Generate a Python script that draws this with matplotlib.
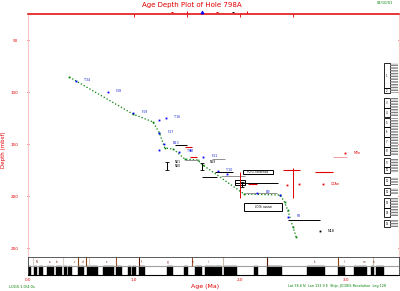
import matplotlib
matplotlib.use("Agg")
import matplotlib.pyplot as plt
from matplotlib.patches import Rectangle

# age-depth control line
line_age = [0.39, 0.99, 1.18, 1.24, 1.29, 1.37, 1.48, 1.60, 1.65, 2.04, 2.38, 2.42, 2.45, 2.50, 2.53]
line_depth = [85.6, 121.2, 128.8, 139.4, 153.8, 154.8, 164.4, 165.4, 170.2, 198.1, 199.0, 205.8, 213.5, 229.8, 239.4]

# biostratigraphic datums (blue)
blue_age = [0.45, 0.75, 0.99, 1.24, 1.30, 1.24, 1.28, 1.24, 1.42, 1.53, 1.65, 1.79, 1.88, 2.16, 2.38, 2.45]
blue_depth = [89.4, 100.0, 120.2, 126.9, 125.0, 139.4, 150.0, 155.8, 157.7, 155.8, 162.5, 176.0, 178.8, 197.1, 199.0, 220.2]
blue_label = ["T34", "F18", "F19", "", "T16", "F17", "B13", "", "T12", "", "F11", "T10", "", "B9", "", "F8"]

# datums with depth uncertainty (black)
err_age = [1.31, 1.64, 2.02]
err_depth = [171.2, 171.2, 189.0]
err_size = [3.8, 3.4, 2.4]
err_label = ["N21\nN20", "N19", ""]

# red datums
red_age = [2.99, 2.44, 2.56, 2.78]
red_depth = [158.7, 189.4, 188.5, 188.5]
red_label = ["M2n", "", "", "C2An"]

# age range boxes (age_min, age_max, depth_top, depth_bottom)
box_age0 = [2.03, 2.04, 1.95]
box_age1 = [2.31, 2.40, 2.05]
box_top = [175.0, 206.7, 184.4]
box_bot = [178.8, 214.4, 189.2]
box_label = ["FO G. tosaensis", "LO N. asanoi", ""]

# age range bars
black_bar_age0 = [1.95, 2.45, 1.64, 1.76, 1.39]
black_bar_age1 = [2.36, 2.75, 1.78, 1.93, 1.50]
black_bar_depth = [187.5, 223.1, 181.4, 177.0, 151.3]
gray_bar_age0 = [2.05, 1.48, 1.74, 1.82]
gray_bar_age1 = [2.35, 1.60, 1.86, 2.05]
gray_bar_depth = [197.1, 165.4, 164.4, 181.0]
red_bar_age0 = [2.41, 2.71, 1.48, 1.53, 2.08]
red_bar_age1 = [2.57, 2.88, 1.55, 1.59, 2.16]
red_bar_depth = [175.0, 176.9, 152.9, 162.5, 188.5]
pink_bar = (2.88, 3.01, 162.5)
red_vline_age = [2.00, 2.50]
red_vline_top = [176.9, 173.1]
red_vline_bot = [201.9, 201.9]

# cores (depth top, depth bottom)
core_top = [72.1, 96.2, 105.8, 115.4, 125.0, 133.7, 143.3, 152.9, 163.5, 172.1, 181.7, 192.3, 201.9, 211.5, 223.1]
core_bot = [96.2, 101.0, 115.4, 124.0, 133.7, 143.3, 152.9, 160.6, 172.1, 177.9, 189.4, 199.0, 211.5, 220.2, 229.8]
core_name = ["1", "2", "3", "4", "5", "6", "7", "8", "9", "10", "11", "12", "13", "14", "15"]

# polarity (normal intervals, Ma)
norm_start = [0.00, 0.06, 0.10, 0.18, 0.21, 0.23, 0.26, 0.34, 0.38, 0.40, 0.47, 0.56, 0.58, 0.71, 0.83,
              0.94, 0.98, 1.05, 1.31, 1.47, 1.58, 1.67, 1.76, 1.85, 2.13, 2.25, 2.63, 2.92, 3.08, 3.11,
              3.24, 3.28]
norm_end = [0.02, 0.08, 0.13, 0.20, 0.22, 0.24, 0.31, 0.36, 0.39, 0.41, 0.52, 0.57, 0.65, 0.80, 0.88,
            0.96, 1.01, 1.09, 1.36, 1.50, 1.63, 1.75, 1.82, 1.96, 2.16, 2.39, 2.79, 2.98, 3.10, 3.19,
            3.25, 3.35]
# zone boundaries in the chronology band
zone_age = [0.05, 0.33, 0.47, 0.55, 0.58, 0.83, 1.05, 1.55, 1.84, 2.25, 2.92, 3.25]
zone_color = ["#d8d0c8", "#d8d0c8", "#8b4513", "#8b4513", "#d8d0c8", "#a0522d", "#5a1a00",
              "#a0522d", "#c8b8a8", "#5a1a00", "#8b4513", "#c8b8a8"]
zone_label_age = [0.08, 0.2, 0.27, 0.44, 0.52, 0.74, 1.07, 1.32, 1.55, 1.70, 2.25, 2.70, 2.98, 3.17, 3.26]
zone_label = ["N", "a", "b", "c", "d", "e", "f", "g", "h", "i", "j", "k", "l", "m", "n"]

RED = "#e00000"
GREEN = "#008000"
FS = 3

fig = plt.figure(figsize=(4.0, 2.91), dpi=100)
ax = fig.add_axes([0.07, 0.1168, 0.9275, 0.8351])
ax.set_xlim(0, 3.50)
ax.set_ylim(258.6, 25)

ax.spines["top"].set_color(RED)
ax.spines["top"].set_linewidth(1.1)
for s in ["left", "right"]:
    ax.spines[s].set_color("#f8c8c8")
    ax.spines[s].set_linewidth(0.8)
ax.spines["bottom"].set_visible(False)

ax.set_yticks([50, 100, 150, 200, 250])
ax.set_yticklabels(["50", "100", "150", "200", "250"])
ax.tick_params(axis="y", colors=RED, labelsize=FS, length=2, width=0.6, direction="inout",
               right=True, pad=6)
ax.set_xticks([1.0, 1.5, 2.0, 2.5])
ax.tick_params(axis="x", top=True, bottom=False, labeltop=False, labelbottom=False,
               colors=RED, length=2, width=0.6, direction="in")

# green age model
ax.plot(line_age, line_depth, ls=":", color=GREEN, lw=0.9, marker="s", ms=1.2, mew=0)

# range bars
ax.hlines(gray_bar_depth, gray_bar_age0, gray_bar_age1, color="#909090", lw=0.7)
ax.hlines(black_bar_depth, black_bar_age0, black_bar_age1, color="black", lw=0.7)
ax.hlines(red_bar_depth, red_bar_age0, red_bar_age1, color=RED, lw=0.8)
ax.hlines(pink_bar[2], pink_bar[0], pink_bar[1], color="#f4a0a0", lw=0.7)
ax.vlines(red_vline_age, red_vline_top, red_vline_bot, color=RED, lw=0.7)

for a0, a1, t, b, lab in zip(box_age0, box_age1, box_top, box_bot, box_label):
    ax.add_patch(Rectangle((a0, t), a1 - a0, b - t, fill=False, ec="black", lw=0.7))
    if lab:
        ax.text((a0 + a1) / 2, (t + b) / 2, lab, fontsize=2, ha="center", va="center")

# blue datums
ax.plot(blue_age, blue_depth, ls="none", marker="s", ms=1.3, color="#0000ff", mew=0)
for a, d, lab in zip(blue_age, blue_depth, blue_label):
    if lab:
        ax.text(a + 0.08, d - 1, lab, fontsize=2.4, color="#2030d0", va="center")

# black datums with depth error
ax.errorbar(err_age, err_depth, yerr=err_size, fmt="none", ecolor="black", elinewidth=0.7,
            capsize=1.2, capthick=0.6)
for a, d, lab in zip(err_age, err_depth, err_label):
    if lab:
        ax.text(a + 0.07, d - 6, lab, fontsize=2.2, va="top")
ax.plot([2.75], [234.0], "s", ms=1.3, color="black", mew=0)
ax.text(2.83, 233.5, "N18", fontsize=2.4, va="center")

# red datums
ax.plot(red_age, red_depth, ls="none", marker="s", ms=1.3, color=RED, mew=0)
for a, d, lab in zip(red_age, red_depth, red_label):
    if lab:
        ax.text(a + 0.08, d, lab, fontsize=2.4, color=RED, va="center")

# cores
for t, b, n in zip(core_top, core_bot, core_name):
    ax.add_patch(Rectangle((3.358, t), 0.057, b - t, fill=False, ec="black", lw=0.6))
    ax.add_patch(Rectangle((3.415, t), 0.08, b - t, fill=False, ec="#808080", lw=0,
                           hatch="------"))
    ax.text(3.386, (t + b) / 2, n, fontsize=1.8, ha="center", va="center")

# chronology band
cx = fig.add_axes([0.07, 0.055, 0.9275, 0.0619])
cx.set_xlim(0, 3.50)
cx.set_ylim(0, 2)
cx.broken_barh([(s, e - s) for s, e in zip(norm_start, norm_end)], (0, 1), color="black")
cx.axhline(1, color="#a0a0a0", lw=0.8)
cx.vlines(zone_age, 1, 2, colors=zone_color, lw=0.8)
for a, lab in zip(zone_label_age, zone_label):
    cx.text(a, 1.45, lab, fontsize=1.8, color="#601000", ha="center", va="center")
cx.set_yticks([])
cx.set_xticks([0, 1, 2, 3])
cx.set_xticklabels(["0.0", "1.0", "2.0", "3.0"])
cx.tick_params(axis="x", length=0, colors=RED, labelsize=FS, pad=2)
for s in ["top", "left", "right"]:
    cx.spines[s].set_color("#404040")
    cx.spines[s].set_linewidth(0.6)
cx.spines["bottom"].set_linewidth(0.8)

# legend symbols above the plot
lx = [0.430, 0.468, 0.505, 0.543, 0.583, 0.618]
lc = [RED, RED, "#0000ff", RED, "black", RED]
lm = ["_", "|", "^", "_", "_", "|"]
for x, c, m in zip(lx, lc, lm):
    fig.add_artist(plt.Line2D([x], [1 - 12 / 291], marker=m, color=c, ms=2, mew=0.7, ls="none"))

fig.text(0.48, 0.992, "Age Depth Plot of Hole 798A", color=RED, fontsize=5, ha="center", va="top")
fig.text(0.962, 0.996, "04/10/01", color=GREEN, fontsize=2.6, ha="center", va="top")
fig.text(0.512, 0.017, "Age (Ma)", color=RED, fontsize=4.5, ha="center", va="center")
fig.text(0.008, 0.485, "Depth (mbsf)", color=RED, fontsize=4, rotation=90, ha="center", va="center")
fig.text(0.055, 0.013, "LOGS 1.0/4.0s", color=GREEN, fontsize=2.6, ha="center", va="center")
fig.text(0.843, 0.017, "Lat 38.6 N  Lon 133.9 E  Ship: JOIDES Resolution  Leg 128", color=GREEN,
         fontsize=2.4, ha="center", va="center")

fig.savefig("out.png", dpi=100)
